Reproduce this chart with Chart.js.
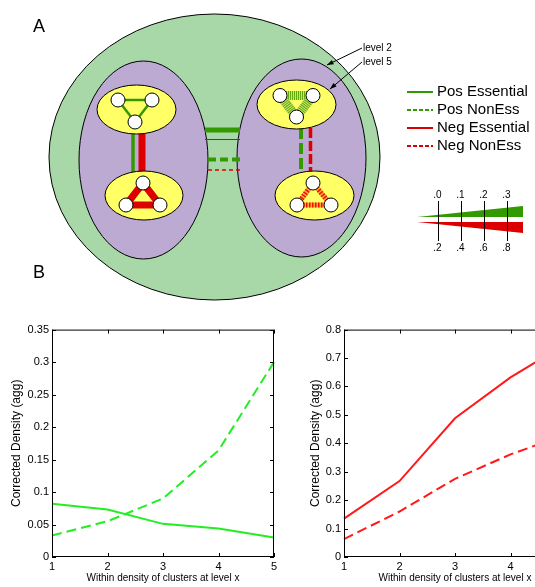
<!DOCTYPE html>
<html>
<head>
<meta charset="utf-8">
<script src="https://cdn.jsdelivr.net/npm/chart.js@4/dist/chart.umd.min.js"></script>
<style>
  html, body { margin: 0; padding: 0; background: #fff; }
  #page { position: relative; width: 535px; height: 587px; overflow: hidden; }
  canvas { position: absolute; }
  #schema { left: 0; top: 0; }
  #posChart { left: 0; top: 320px; }
  #negChart { left: 275px; top: 320px; }
</style>
</head>
<body>
<div id="page">
  <canvas id="schema" width="535" height="320"></canvas>
  <canvas id="posChart" width="285" height="267"></canvas>
  <canvas id="negChart" width="305" height="267"></canvas>
</div>
<script>
// Corrected density per level
const levels = ['1', '2', '3', '4', '5'];
const posEssential = [0.082, 0.073, 0.051, 0.044, 0.030];
const posNonEss = [0.033, 0.055, 0.090, 0.164, 0.300];
const negEssential = [0.135, 0.267, 0.488, 0.632, 0.750];
const negNonEss = [0.063, 0.160, 0.275, 0.361, 0.431];

// Legend + wedge scale text
const legendLabels = ['Pos Essential', 'Pos NonEss', 'Neg Essential', 'Neg NonEss'];
const wedgeTop = ['.0', '.1', '.2', '.3'];
const wedgeBottom = ['.2', '.4', '.6', '.8'];

const FONT = '"Liberation Sans", Arial, sans-serif';
const GREEN = '#339900';
const RED = '#dd0000';

// ---------- schematic ----------
const g = document.getElementById('schema').getContext('2d');

function ellipse(cx, cy, rx, ry, fill) {
  g.beginPath();
  g.ellipse(cx, cy, rx, ry, 0, 0, Math.PI * 2);
  g.fillStyle = fill;
  g.fill();
  g.lineWidth = 1;
  g.strokeStyle = '#000';
  g.stroke();
}

function seg(x1, y1, x2, y2, color, width, dash) {
  g.save();
  g.beginPath();
  g.moveTo(x1, y1);
  g.lineTo(x2, y2);
  g.strokeStyle = color;
  g.lineWidth = width;
  g.setLineDash(dash || []);
  g.stroke();
  g.restore();
}

function triangle(nodes, color, width, dash, base) {
  for (let i = 0; i < 3; i++) {
    const a = nodes[i], b = nodes[(i + 1) % 3];
    if (base) seg(a[0], a[1], b[0], b[1], base, width);
    seg(a[0], a[1], b[0], b[1], color, width, dash);
  }
}

function nodes(list) {
  list.forEach(([x, y]) => {
    g.beginPath();
    g.arc(x, y, 7, 0, Math.PI * 2);
    g.fillStyle = '#fff';
    g.fill();
    g.lineWidth = 1;
    g.strokeStyle = '#000';
    g.stroke();
  });
}

function arrow(x1, y1, x2, y2) {
  seg(x1, y1, x2, y2, '#000', 1);
  const ang = Math.atan2(y2 - y1, x2 - x1);
  g.beginPath();
  g.moveTo(x2, y2);
  g.lineTo(x2 - 7 * Math.cos(ang - 0.35), y2 - 7 * Math.sin(ang - 0.35));
  g.lineTo(x2 - 7 * Math.cos(ang + 0.35), y2 - 7 * Math.sin(ang + 0.35));
  g.closePath();
  g.fillStyle = '#000';
  g.fill();
}

// outer cluster and level-2 clusters
ellipse(214.5, 157, 165.5, 143, '#a8d8a8');
ellipse(143.5, 160, 64.5, 99, '#bcaad2');
ellipse(301.5, 158, 64.5, 99, '#bcaad2');

// links between the two level-2 clusters
seg(205, 130, 240, 130, GREEN, 5);
seg(205, 139.5, 240, 139.5, RED, 1);
seg(208, 159.5, 240, 159.5, GREEN, 4, [8, 4]);
seg(208, 170, 240, 170, RED, 1.5, [4, 3]);

// links inside each level-2 cluster
seg(133, 132, 133, 173, GREEN, 3.5);
seg(142, 132, 142, 173, RED, 7);
seg(301, 128, 301, 173, GREEN, 4, [11, 4]);
seg(310.5, 128, 310.5, 173, RED, 3.5, [10, 3]);

// level-5 clusters
ellipse(136.5, 109.5, 39.5, 24.5, '#ffff66');
ellipse(144, 195.5, 39, 24.5, '#ffff66');
ellipse(296.5, 104.5, 39.5, 24.5, '#ffff66');
ellipse(314.5, 195.5, 39.5, 24.5, '#ffff66');

const ltNodes = [[118, 100], [152, 100], [135, 122]];
const lbNodes = [[143, 183], [126, 205], [160, 205]];
const rtNodes = [[280, 95.5], [313, 95.5], [296.5, 117]];
const rbNodes = [[313, 183], [297, 205], [331, 205]];

triangle(ltNodes, GREEN, 2.5);
triangle(lbNodes, RED, 7);
triangle(rtNodes, '#66aa11', 9, [1, 1], '#c8e86a');
triangle(rbNodes, '#ee1100', 5, [1.5, 1.5], '#ffaa33');
[ltNodes, lbNodes, rtNodes, rbNodes].forEach(nodes);

// panel letters
g.fillStyle = '#000';
g.font = '18px ' + FONT;
g.textAlign = 'center';
g.textBaseline = 'middle';
g.fillText('A', 39, 27);
g.fillText('B', 39, 273);

// level pointers
g.font = '10px ' + FONT;
g.textAlign = 'left';
g.fillText('level 2', 363, 48);
g.fillText('level 5', 363, 62);
arrow(362, 48, 327, 65);
arrow(362, 62, 330, 89);

// legend
g.font = '15px ' + FONT;
legendLabels.forEach((txt, i) => {
  const y = 92 + i * 18;
  seg(407, y, 433, y, i < 2 ? GREEN : RED, 2, i % 2 ? [4, 2] : []);
  g.fillStyle = '#000';
  g.fillText(txt, 437, y);
});

// wedge scale for edge weights
g.beginPath();
g.moveTo(417, 217); g.lineTo(523, 206); g.lineTo(523, 217); g.closePath();
g.fillStyle = GREEN; g.fill();
g.beginPath();
g.moveTo(417, 222); g.lineTo(523, 222); g.lineTo(523, 233); g.closePath();
g.fillStyle = RED; g.fill();
const wedgeX = [438.5, 461.5, 484.5, 507.5];
g.font = '10px ' + FONT;
g.textAlign = 'center';
wedgeX.forEach((x, i) => {
  seg(x, 201, x, 241, '#000', 1);
  g.fillStyle = '#000';
  g.fillText(wedgeTop[i], x - 1, 195);
  g.fillText(wedgeBottom[i], x - 1, 248);
});

// ---------- density charts ----------
// closed box with inward ticks on all four sides
const boxTicks = {
  id: 'boxTicks',
  afterDraw(chart) {
    const { ctx, chartArea: a, scales: { x, y } } = chart;
    ctx.save();
    ctx.strokeStyle = '#000';
    ctx.lineWidth = 1;
    ctx.strokeRect(a.left + 0.5, a.top + 0.5, a.width - 1, a.height - 1);
    ctx.beginPath();
    x.ticks.forEach((t, i) => {
      const px = Math.round(x.getPixelForTick(i)) + 0.5;
      ctx.moveTo(px, a.bottom); ctx.lineTo(px, a.bottom - 4);
      ctx.moveTo(px, a.top); ctx.lineTo(px, a.top + 4);
    });
    y.ticks.forEach(t => {
      const py = Math.round(y.getPixelForValue(t.value)) + 0.5;
      ctx.moveTo(a.left, py); ctx.lineTo(a.left + 4, py);
      ctx.moveTo(a.right, py); ctx.lineTo(a.right - 4, py);
    });
    ctx.stroke();
    ctx.restore();
  }
};

function densityChart(id, series, yMax, yStep, yWidth, titlePad, rightPad) {
  return new Chart(document.getElementById(id), {
    type: 'line',
    data: {
      labels: levels,
      datasets: series.map(s => ({
        data: s.data,
        borderColor: s.color,
        borderDash: s.dash,
        borderWidth: 2,
        pointRadius: 0,
        tension: 0,
        fill: false
      }))
    },
    options: {
      responsive: false,
      animation: false,
      layout: { padding: { top: 9, right: rightPad, left: 0, bottom: 0 } },
      plugins: { legend: { display: false }, tooltip: { enabled: false } },
      scales: {
        x: {
          grid: { display: false, drawTicks: false },
          border: { display: false },
          ticks: { padding: 3, color: '#000', maxRotation: 0, autoSkip: false, font: { family: FONT, size: 11 } },
          title: {
            display: true, text: 'Within density of clusters at level x', color: '#000',
            font: { family: FONT, size: 10 }, padding: { top: 0, bottom: 3 }
          },
          afterFit: s => { s.height = 30; }
        },
        y: {
          min: 0, max: yMax,
          grid: { display: false, drawTicks: false },
          border: { display: false },
          ticks: {
            stepSize: yStep, padding: 3, color: '#000', font: { family: FONT, size: 11 },
            callback: v => String(+v.toFixed(2))
          },
          title: {
            display: true, text: 'Corrected Density (agg)', color: '#000',
            font: { family: FONT, size: 12 }, padding: { top: titlePad, bottom: 0 }
          },
          afterFit: s => { s.width = yWidth; }
        }
      }
    },
    plugins: [boxTicks]
  });
}

densityChart('posChart', [
  { data: posEssential, color: '#22ee22', dash: [] },
  { data: posNonEss, color: '#22ee22', dash: [10, 5] }
], 0.35, 0.05, 52, 9, 11);

densityChart('negChart', [
  { data: negEssential, color: '#ff1a1a', dash: [] },
  { data: negNonEss, color: '#ff1a1a', dash: [10, 5] }
], 0.8, 0.1, 69, 33, 14);
</script>
</body>
</html>
